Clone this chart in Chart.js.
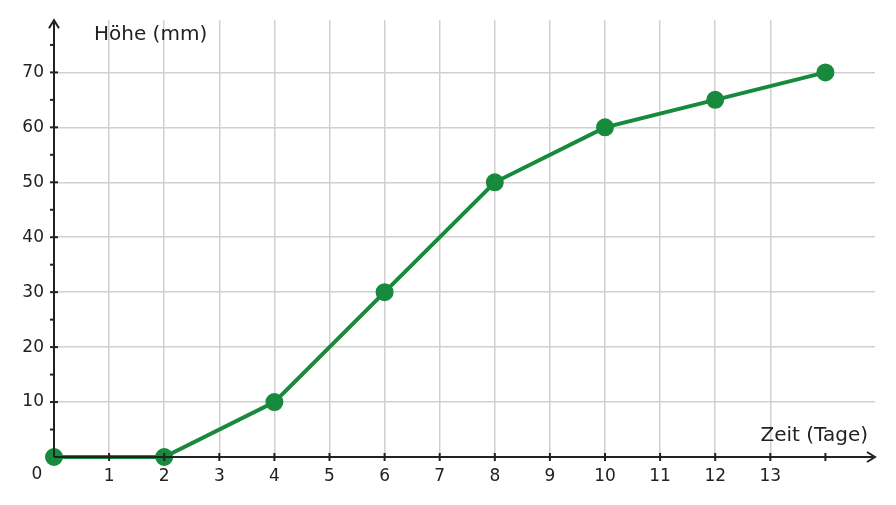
<!DOCTYPE html>
<html><head><meta charset="utf-8">
<script src="https://cdn.jsdelivr.net/npm/chart.js@4"></script>
<style>html,body{margin:0;padding:0;background:#fff}</style>
</head><body>
<div style="width:896px;height:505px"><canvas id="c"></canvas></div>
<script>
const days = [0, 2, 4, 6, 8, 10, 12, 14];
const heights = [0, 0, 10, 30, 50, 60, 65, 70];
const xTitle = "Zeit (Tage)";
const yTitle = "Höhe (mm)";
const FONT = "'DejaVu Sans', sans-serif";
const TXT = "#222";

const axesPlugin = {
  id: 'axes',
  afterDraw(chart) {
    const ctx = chart.ctx, x = chart.scales.x, y = chart.scales.y;
    const x0 = x.getPixelForValue(0), y0 = y.getPixelForValue(0);
    const right = x.right, top = y.top;
    ctx.save();
    ctx.strokeStyle = TXT; ctx.lineWidth = 2;
    ctx.beginPath(); ctx.moveTo(x0, y0); ctx.lineTo(right - 2, y0); ctx.stroke();
    ctx.beginPath(); ctx.moveTo(x0, y0); ctx.lineTo(x0, top + 2); ctx.stroke();
    // arrows
    ctx.beginPath(); ctx.moveTo(right - 8, y0 - 5); ctx.lineTo(right, y0); ctx.lineTo(right - 8, y0 + 5); ctx.stroke();
    ctx.beginPath(); ctx.moveTo(x0 - 5, top + 8); ctx.lineTo(x0, top); ctx.lineTo(x0 + 5, top + 8); ctx.stroke();
    // minor ticks on y
    ctx.lineWidth = 2;
    for (let v = 5; v <= 75; v += 5) {
      const p = y.getPixelForValue(v);
      ctx.beginPath(); ctx.moveTo(x0 - 4, p); ctx.lineTo(x0 + (v % 10 === 0 ? 4 : 0), p); ctx.stroke();
    }
    for (let v = 1; v <= 14; v++) {
      const p = x.getPixelForValue(v);
      ctx.beginPath(); ctx.moveTo(p, y0 - 4); ctx.lineTo(p, y0 + 4); ctx.stroke();
    }
    ctx.fillStyle = TXT;
    ctx.font = "17px " + FONT;
    ctx.textAlign = 'center'; ctx.textBaseline = 'middle';
    ctx.fillText('0', x0 - 17, y0 + 18);
    ctx.font = "20px " + FONT;
    ctx.textAlign = 'left';
    ctx.fillText(yTitle, 94, 35);
    ctx.textAlign = 'right';
    ctx.fillText(xTitle, 868, 436);
    ctx.restore();
  }
};

new Chart(document.getElementById('c'), {
  type: 'line',
  data: { datasets: [{
    data: days.map((d, i) => ({x: d, y: heights[i]})),
    borderColor: '#178a3e', backgroundColor: '#178a3e',
    borderWidth: 4, pointRadius: 7, pointHoverRadius: 7, clip: false
  }]},
  options: {
    responsive: true, maintainAspectRatio: false, animation: false,
    layout: { padding: { top: 20, right: 21, left: 0, bottom: 0 } },
    plugins: { legend: { display: false }, tooltip: { enabled: false } },
    scales: {
      x: { type: 'linear', min: 0, max: 14.9,
        afterFit(s) { s.height = 48; },
        border: { display: false },
        grid: { drawTicks: false, lineWidth: 1.5, color: c => (c.tick && c.tick.value >= 1 && c.tick.value <= 14) ? '#d0d0d0' : 'rgba(0,0,0,0)' },
        ticks: { stepSize: 1, autoSkip: false, padding: 9, color: TXT, font: { family: FONT, size: 17 },
          callback: v => (v >= 1 && v <= 14 && Number.isInteger(v)) ? String(v) : '' } },
      y: { min: 0, max: 79.5,
        afterFit(s) { s.width = 54; },
        border: { display: false },
        grid: { drawTicks: false, lineWidth: 1.5, color: c => (c.tick && c.tick.value >= 10 && c.tick.value <= 70 && c.tick.value % 10 === 0) ? '#d0d0d0' : 'rgba(0,0,0,0)' },
        ticks: { stepSize: 10, autoSkip: false, padding: 10, color: TXT, font: { family: FONT, size: 17 },
          callback: v => (v >= 10 && v <= 70) ? String(v) : '' } }
    }
  },
  plugins: [axesPlugin]
});
</script>
</body></html>
